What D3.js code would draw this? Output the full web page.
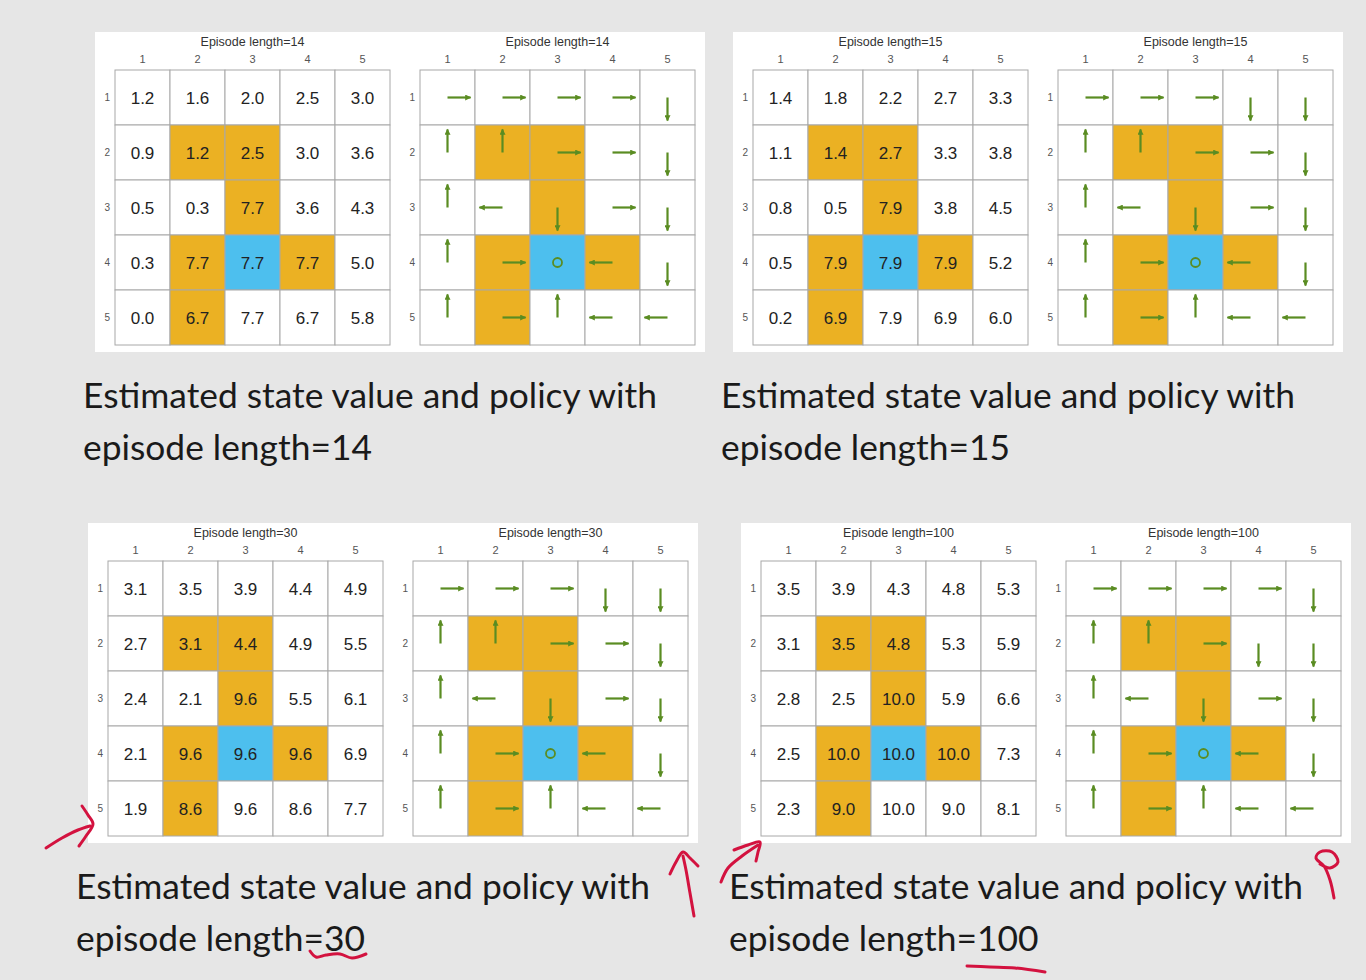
<!DOCTYPE html>
<html>
<head>
<meta charset="utf-8">
<script src="https://cdn.jsdelivr.net/npm/d3@7"></script>
<style>
body{margin:0;background:#e6e6e6;}
svg{display:block;}
</style>
</head>
<body>
<svg id="chart" width="1366" height="980"></svg>
<script>
/* 数据 */
var EPISODE_LENGTHS=[14,15,30,100];
var TICK_LABELS=["1","2","3","4","5"];

var VALUES_14=[
	[1.2,1.6,2.0,2.5,3.0],
	[0.9,1.2,2.5,3.0,3.6],
	[0.5,0.3,7.7,3.6,4.3],
	[0.3,7.7,7.7,7.7,5.0],
	[0.0,6.7,7.7,6.7,5.8]];
var VALUES_15=[
	[1.4,1.8,2.2,2.7,3.3],
	[1.1,1.4,2.7,3.3,3.8],
	[0.8,0.5,7.9,3.8,4.5],
	[0.5,7.9,7.9,7.9,5.2],
	[0.2,6.9,7.9,6.9,6.0]];
var VALUES_30=[
	[3.1,3.5,3.9,4.4,4.9],
	[2.7,3.1,4.4,4.9,5.5],
	[2.4,2.1,9.6,5.5,6.1],
	[2.1,9.6,9.6,9.6,6.9],
	[1.9,8.6,9.6,8.6,7.7]];
var VALUES_100=[
	[3.5,3.9,4.3,4.8,5.3],
	[3.1,3.5,4.8,5.3,5.9],
	[2.8,2.5,10.0,5.9,6.6],
	[2.5,10.0,10.0,10.0,7.3],
	[2.3,9.0,10.0,9.0,8.1]];

// R右 L左 U上 D下 O停留
var POLICY_14=["RRRRD","UURRD","ULDRD","UROLD","URULL"];
var POLICY_15=["RRRDD","UURRD","ULDRD","UROLD","URULL"];
var POLICY_30=["RRRDD","UURRD","ULDRD","UROLD","URULL"];
var POLICY_100=["RRRRD","UURDD","ULDRD","UROLD","URULL"];

// 禁止区域 / 目标区域 (行,列)
var FORBIDDEN_CELLS=[[2,2],[2,3],[3,3],[4,2],[4,4],[5,2]];
var TARGET_CELL=[4,3];

/* Global Config */
var PANEL_X=[95,733,88,741];
var PANEL_Y=[32,32,523,523];
var BOX_W=610, BOX_H=320;
var GRID_SIZE=275;
var GRID_TOP=38;
var VALUE_LEFT=20, POLICY_LEFT=325;
var COLOR_FORBIDDEN="#ebb123";
var COLOR_TARGET="#4dbfee";
var COLOR_ARROW="#5a8c22";
var COLOR_RED="#d3123f";

var svg=d3.select("#chart");
svg.append("rect").attr("width",1366).attr("height",980).attr("fill","#e6e6e6");

var defs=svg.append("defs");
defs.append("marker")
	.attr("id","arrowHead")
	.attr("markerUnits","userSpaceOnUse")
	.attr("viewBox","0 0 10 10")
	.attr("refX",9).attr("refY",5)
	.attr("markerWidth",7).attr("markerHeight",6)
	.attr("orient","auto")
	.append("path")
	.attr("d","M0,0L10,5L0,10Z")
	.attr("fill",COLOR_ARROW);

var xScale=d3.scaleBand().domain(TICK_LABELS).range([0,GRID_SIZE]);
var yScale=d3.scaleBand().domain(TICK_LABELS).range([0,GRID_SIZE]);
var fmt=d3.format(".1f");
var DIRS={R:[1,0],L:[-1,0],U:[0,-1],D:[0,1]};

var panels=[
	{len:EPISODE_LENGTHS[0],values:VALUES_14,policy:POLICY_14},
	{len:EPISODE_LENGTHS[1],values:VALUES_15,policy:POLICY_15},
	{len:EPISODE_LENGTHS[2],values:VALUES_30,policy:POLICY_30},
	{len:EPISODE_LENGTHS[3],values:VALUES_100,policy:POLICY_100}];

// 单元格类型
function cellFill(r,c){
	if(r==TARGET_CELL[0]&&c==TARGET_CELL[1]){return COLOR_TARGET;}
	for(var k=0;k<FORBIDDEN_CELLS.length;k++){
		if(FORBIDDEN_CELLS[k][0]==r&&FORBIDDEN_CELLS[k][1]==c){return COLOR_FORBIDDEN;}
	}
	return "#fff";
}

function gridCells(){
	var cells=[];
	for(var r=1;r<=5;r++){
		for(var c=1;c<=5;c++){cells.push({r:r,c:c});}
	}
	return cells;
}

//网格底图 + 坐标轴
function drawGridBase(g,title){
	g.selectAll("rect.cell").data(gridCells()).enter().append("rect")
		.attr("class","cell")
		.attr("x",function(d){return xScale(String(d.c));})
		.attr("y",function(d){return yScale(String(d.r));})
		.attr("width",xScale.bandwidth())
		.attr("height",yScale.bandwidth())
		.attr("fill",function(d){return cellFill(d.r,d.c);})
		.attr("stroke","#a8a8a8")
		.attr("stroke-width",1);
	var top=g.append("g").attr("transform","translate(0,-3)")
		.call(d3.axisTop(xScale).tickSize(0).tickPadding(4));
	top.select(".domain").remove();
	top.selectAll("text").style("font-family","Liberation Sans, Arial").style("font-size","11px").attr("fill","#555");
	var left=g.append("g").attr("transform","translate(-3,0)")
		.call(d3.axisLeft(yScale).tickSize(0).tickPadding(2));
	left.select(".domain").remove();
	left.selectAll("text").style("font-family","Liberation Sans, Arial").style("font-size","10px").attr("fill","#555");
	g.append("text")
		.text(title)
		.attr("x",GRID_SIZE/2)
		.attr("y",-24)
		.attr("text-anchor","middle")
		.style("font-family","Liberation Sans, Arial")
		.style("font-size","12.5px")
		.attr("fill","#333");
}

function drawValueGrid(g,p){
	drawGridBase(g,"Episode length="+p.len);
	var cells=gridCells();
	g.selectAll("text.val").data(cells).enter().append("text")
		.attr("class","val")
		.text(function(d){return fmt(p.values[d.r-1][d.c-1]);})
		.attr("x",function(d){return xScale(String(d.c))+xScale.bandwidth()/2;})
		.attr("y",function(d){return yScale(String(d.r))+yScale.bandwidth()/2+6;})
		.attr("text-anchor","middle")
		.style("font-family","Liberation Sans, Arial")
		.style("font-size","17px")
		.attr("fill","#222");
}

function drawPolicyGrid(g,p){
	drawGridBase(g,"Episode length="+p.len);
	var cells=gridCells();
	var bw=xScale.bandwidth();
	var len=bw*0.42;
	cells.forEach(function(d){
		var a=p.policy[d.r-1].charAt(d.c-1);
		var cx=xScale(String(d.c))+bw/2;
		var cy=yScale(String(d.r))+bw/2;
		if(a=="O"){
			g.append("circle")
				.attr("cx",cx).attr("cy",cy).attr("r",4.5)
				.attr("fill","none")
				.attr("stroke",COLOR_ARROW)
				.attr("stroke-width",1.8);
		}
		else{
			var v=DIRS[a];
			g.append("line")
				.attr("x1",cx).attr("y1",cy)
				.attr("x2",cx+v[0]*len).attr("y2",cy+v[1]*len)
				.attr("stroke",COLOR_ARROW)
				.attr("stroke-width",2.2)
				.attr("marker-end","url(#arrowHead)");
		}
	});
}

//说明文字
function drawCaption(x,y,len){
	var t1=svg.append("text")
		.text("Estimated state value and policy with")
		.attr("x",x).attr("y",y)
		.style("font-family","Lato, Open Sans, sans-serif")
		.style("font-size","34px")
		.attr("fill","#1a1a1a");
	var w=t1.node().getComputedTextLength();
	var fs=34*574/w;
	t1.style("font-size",fs+"px");
	svg.append("text")
		.text("episode length="+len)
		.attr("x",x).attr("y",y+52)
		.style("font-family","Lato, Open Sans, sans-serif")
		.style("font-size",fs+"px")
		.attr("fill","#1a1a1a");
}

panels.forEach(function(p,i){
	var g=svg.append("g").attr("transform","translate("+PANEL_X[i]+","+PANEL_Y[i]+")");
	g.append("rect").attr("width",BOX_W).attr("height",BOX_H).attr("fill","#fff");
	drawValueGrid(g.append("g").attr("transform","translate("+VALUE_LEFT+","+GRID_TOP+")"),p);
	drawPolicyGrid(g.append("g").attr("transform","translate("+POLICY_LEFT+","+GRID_TOP+")"),p);
	drawCaption(PANEL_X[i]-12,PANEL_Y[i]+376,p.len);
});

/* 手写红色标注 */
var MARKS=[
	[[46,848],[62,838],[78,830],[90,826]],
	[[82,806],[88,815],[93,824],[86,836],[79,846]],
	[[694,916],[690,893],[686,870],[683,856]],
	[[670,874],[676,862],[683,852],[690,858],[698,866]],
	[[721,882],[728,868],[742,856],[758,845]],
	[[734,850],[748,845],[760,842],[758,852],[756,861]],
	[[1334,898],[1330,880],[1324,866],[1316,858],[1320,852],[1332,852],[1338,862],[1330,868],[1320,864]],
	[[310,951],[316,957],[326,955],[340,954],[352,958],[366,954]],
	[[967,966],[990,967],[1015,968],[1045,972]]];
var redLine=d3.line().curve(d3.curveCatmullRom);
svg.selectAll("path.mark").data(MARKS).enter().append("path")
	.attr("class","mark")
	.attr("d",redLine)
	.attr("fill","none")
	.attr("stroke",COLOR_RED)
	.attr("stroke-width",3)
	.attr("stroke-linecap","round")
	.attr("stroke-linejoin","round");
</script>
</body>
</html>
